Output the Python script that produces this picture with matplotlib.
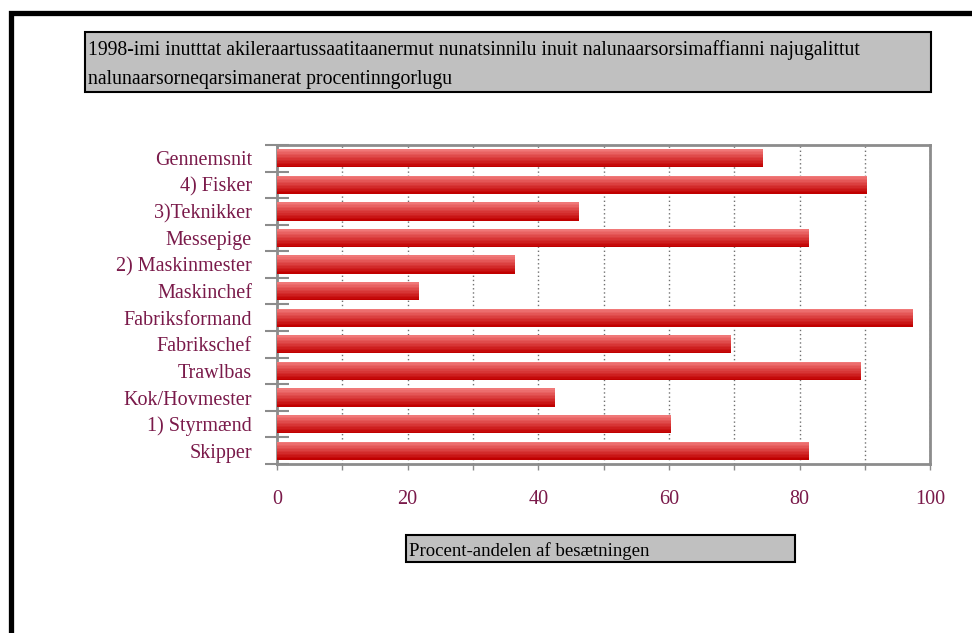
import numpy as np
import matplotlib
matplotlib.use("Agg")
import matplotlib.pyplot as plt
from matplotlib.patches import Rectangle
from matplotlib.colors import LinearSegmentedColormap

plt.rcParams['font.family'] = ['Liberation Serif', 'DejaVu Serif']

categories = ['Skipper', '1) Styrmænd', 'Kok/Hovmester', 'Trawlbas', 'Fabrikschef',
              'Fabriksformand', 'Maskinchef', '2) Maskinmester', 'Messepige',
              '3)Teknikker', '4) Fisker', 'Gennemsnit']
values = [81.4, 60.3, 42.6, 89.4, 69.5, 97.3, 21.7, 36.4, 81.4, 46.2, 90.3, 74.4]
xticks = [0, 20, 40, 60, 80, 100]
title = ('1998-imi inutttat akileraartussaatitaanermut nunatsinnilu inuit nalunaarsorsimaffianni najugalittut\n'
         'nalunaarsorneqarsimanerat procentinngorlugu')
xlabel = 'Procent-andelen af besætningen'

label_col = '#7a1a4a'
grey = '#8c8c8c'

fig = plt.figure(figsize=(9.72, 6.33), dpi=100)
ax = fig.add_axes([0.285, 0.267, 0.672, 0.504])

# gradient bars: thin slices, light on top, dark red at the bottom
cmap = LinearSegmentedColormap.from_list('bar', ['#c00000', '#d93a3a', '#f07878'])
n = 12
h = 0.68
y = np.arange(len(categories))
for k in range(n):
    off = -h / 2 + h * (k + 0.5) / n
    ax.barh(y + off, values, height=h / n + 0.005, color=cmap(k / (n - 1)),
            linewidth=0, zorder=3)

ax.set_xlim(0, 100)
ax.set_ylim(-0.5, len(categories) - 0.5)

ax.set_xticks(np.arange(0, 101, 10))
ax.set_xticklabels([str(v) if v in xticks else '' for v in range(0, 101, 10)])
ax.tick_params(axis='x', direction='out', length=4, width=1, color=grey,
               labelsize=14.5, labelcolor=label_col, pad=15)
ax.grid(axis='x', linestyle=(0, (1, 2)), color='#707070', linewidth=1, zorder=0)

ax.set_yticks(np.arange(-0.5, len(categories), 1))
ax.set_yticklabels([])
ax.set_yticks(y, minor=True)
ax.set_yticklabels(categories, minor=True)
ax.tick_params(axis='y', which='major', direction='inout', length=17, width=1.5, color=grey)
ax.tick_params(axis='y', which='minor', length=0, labelsize=14.5, labelcolor=label_col, pad=18)

for s in ax.spines.values():
    s.set_color(grey)
    s.set_linewidth(2)

# title box
fig.patches.append(Rectangle((85 / 972, 1 - 92 / 633), 846 / 972, 60 / 633,
                             transform=fig.transFigure, facecolor='#c0c0c0',
                             edgecolor='black', linewidth=1.5))
fig.text(88 / 972, 1 - 64.5 / 633, title, ha='left', va='center', fontsize=14.2,
         linespacing=1.65, color='black')

# x label box
fig.patches.append(Rectangle((406 / 972, 1 - 562 / 633), 389 / 972, 27 / 633,
                             transform=fig.transFigure, facecolor='#c0c0c0',
                             edgecolor='black', linewidth=1.5))
fig.text(409 / 972, 1 - 551 / 633, xlabel, ha='left', va='center', fontsize=13.5,
         color='black')

# outer frame (only left and top edges visible)
fig.patches.append(Rectangle((11 / 972, -0.1), 1.2, 1 - 13.5 / 633 + 0.1,
                             transform=fig.transFigure, facecolor='none',
                             edgecolor='black', linewidth=3.8))

fig.savefig('out.png', dpi=100)
